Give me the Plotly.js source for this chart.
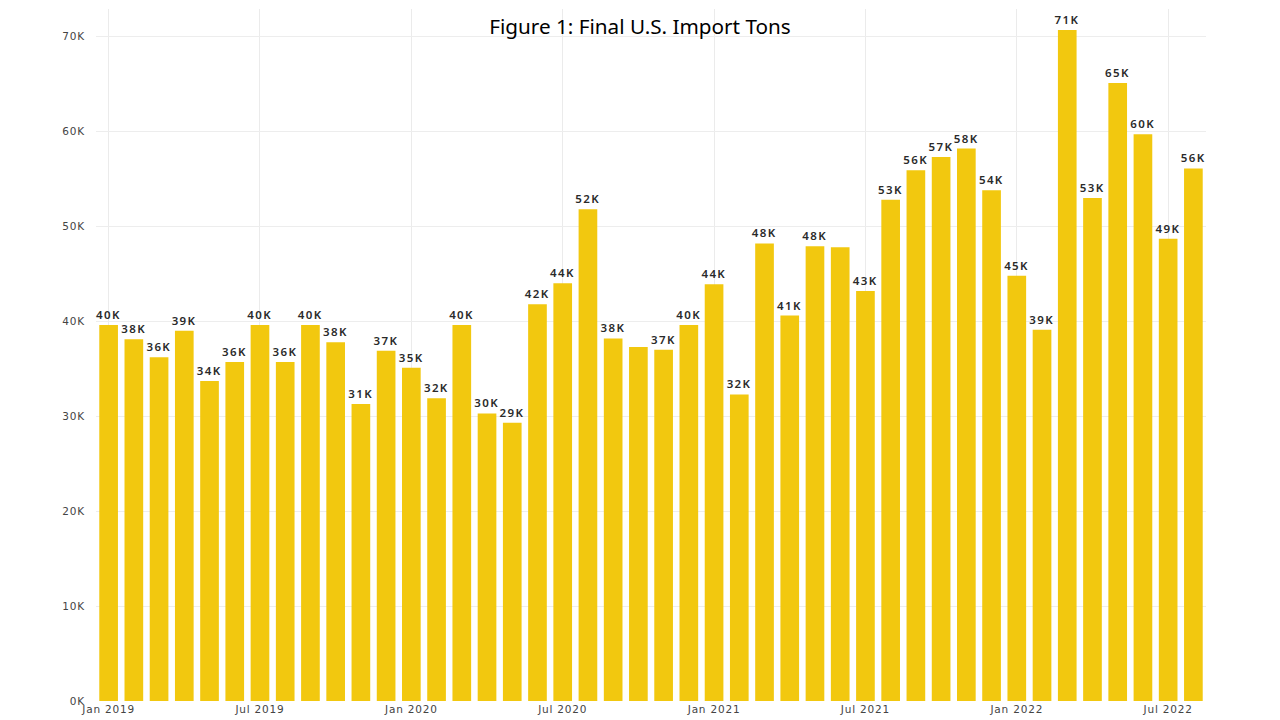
<!DOCTYPE html>
<html>
<head>
<meta charset="utf-8">
<script src="https://cdn.plot.ly/plotly-3.0.1.min.js"></script>
<style>
  html, body { margin: 0; padding: 0; background: #fff; }
  #chart { width: 1280px; height: 720px; }
  /* the original labels are set wide, spaced out a little */
  #chart .bartext { letter-spacing: 1.4px; }
  #chart .xtick text, #chart .ytick text { letter-spacing: 0.8px; }
</style>
</head>
<body>
<div id="chart"></div>
<script>
// monthly import tons, in thousands
var months = [
  'Jan 2019', 'Feb 2019', 'Mar 2019', 'Apr 2019', 'May 2019', 'Jun 2019',
  'Jul 2019', 'Aug 2019', 'Sep 2019', 'Oct 2019', 'Nov 2019', 'Dec 2019',
  'Jan 2020', 'Feb 2020', 'Mar 2020', 'Apr 2020', 'May 2020', 'Jun 2020',
  'Jul 2020', 'Aug 2020', 'Sep 2020', 'Oct 2020', 'Nov 2020', 'Dec 2020',
  'Jan 2021', 'Feb 2021', 'Mar 2021', 'Apr 2021', 'May 2021', 'Jun 2021',
  'Jul 2021', 'Aug 2021', 'Sep 2021', 'Oct 2021', 'Nov 2021', 'Dec 2021',
  'Jan 2022', 'Feb 2022', 'Mar 2022', 'Apr 2022', 'May 2022', 'Jun 2022',
  'Jul 2022', 'Aug 2022'
];

var tons = [
  39.6, 38.1, 36.2, 39.0, 33.7, 35.7,
  39.6, 35.7, 39.6, 37.8, 31.3, 36.9,
  35.1, 31.9, 39.6, 30.3, 29.3, 41.8,
  44.0, 51.8, 38.2, 37.3, 37.0, 39.6,
  43.9, 32.3, 48.2, 40.6, 47.9, 47.8,
  43.2, 52.8, 55.9, 57.3, 58.2, 53.8,
  44.8, 39.1, 70.7, 53.0, 65.1, 59.7,
  48.7, 56.1
];

// months whose data label is not shown in the original
var hiddenLabels = ['Oct 2020', 'Jun 2021'];

var tickMonths = ['Jan 2019', 'Jul 2019', 'Jan 2020', 'Jul 2020',
                  'Jan 2021', 'Jul 2021', 'Jan 2022', 'Jul 2022'];
var yTicks = [0, 10, 20, 30, 40, 50, 60, 70];

var labels = tons.map(function (v, i) {
  return hiddenLabels.indexOf(months[i]) >= 0 ? '' : Math.round(v) + 'K';
});

var trace = {
  x: months,
  y: tons,
  type: 'bar',
  text: labels,
  textposition: 'outside',
  constraintext: 'none',
  cliponaxis: false,
  textfont: { family: 'Noto Sans, sans-serif', size: 11.5, color: '#2a2a2a', weight: 600 },
  marker: { color: '#F2C80F' },
  hoverinfo: 'none'
};

var layout = {
  width: 1280,
  height: 720,
  margin: { l: 96, r: 74, t: 9, b: 19 },
  paper_bgcolor: '#ffffff',
  plot_bgcolor: '#ffffff',
  bargap: 0.26,
  showlegend: false,
  title: {
    text: 'Figure 1: Final U.S. Import Tons',
    font: { family: 'Noto Sans, sans-serif', size: 20.7, color: '#000000' },
    x: 0.5, xanchor: 'center',
    y: 1 - 27 / 720, yanchor: 'middle', yref: 'container'
  },
  xaxis: {
    type: 'category',
    tickvals: tickMonths,
    ticktext: tickMonths,
    showgrid: true,
    gridcolor: '#ebebeb',
    gridwidth: 1,
    zeroline: false,
    showline: false,
    ticks: '',
    tickfont: { family: 'DejaVu Sans, sans-serif', size: 10.5, color: '#444444' },
    ticklabelstandoff: 0
  },
  yaxis: {
    range: [0, 72.9],
    tickvals: yTicks,
    ticktext: yTicks.map(function (t) { return t + 'K'; }),
    showgrid: true,
    gridcolor: '#ededed',
    zeroline: false,
    showline: false,
    ticks: '',
    tickfont: { family: 'DejaVu Sans, sans-serif', size: 10.5, color: '#444444' },
    ticklabelstandoff: 10
  }
};

Plotly.newPlot('chart', [trace], layout, { staticPlot: true });
</script>
</body>
</html>
